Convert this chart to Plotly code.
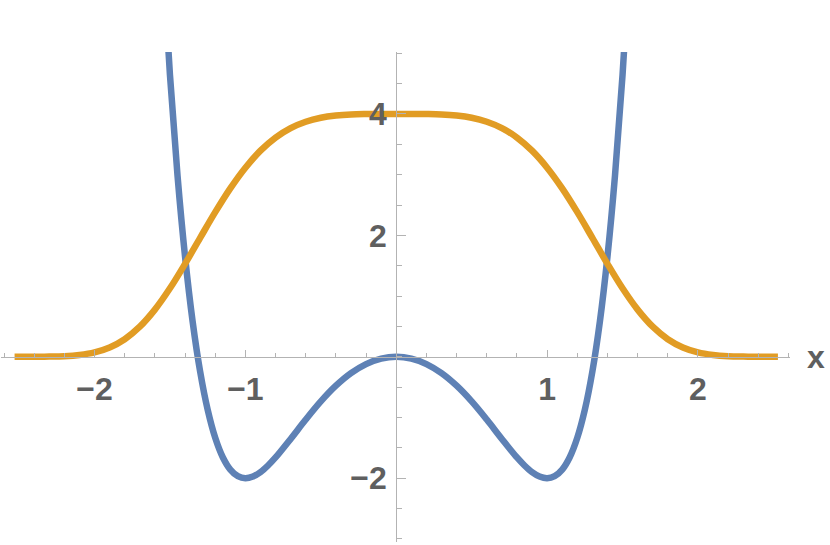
import plotly.graph_objects as go

# Blue curve samples
blue_x = [-1.6, -1.55, -1.5, -1.45, -1.4, -1.35, -1.3, -1.25, -1.2, -1.15, -1.1, -1.05, -1.0, -0.95, -0.9,
          -0.85, -0.8, -0.7, -0.6, -0.5, -0.4, -0.3, -0.2, -0.1,
          0.0, 0.1, 0.2, 0.3, 0.4, 0.5, 0.6, 0.7, 0.8, 0.85, 0.9, 0.95, 1.0, 1.05, 1.1, 1.15, 1.2,
          1.25, 1.3, 1.35, 1.4, 1.45, 1.5, 1.55, 1.6]
blue_y = [9.097, 6.660, 4.641, 2.986, 1.650, 0.586, -0.243, -0.873, -1.334, -1.654, -1.858, -1.967,
          -2.000, -1.972, -1.899, -1.790, -1.658, -1.352, -1.033, -0.734, -0.476, -0.269, -0.120, -0.030,
          0.000, -0.030, -0.120, -0.269, -0.476, -0.734, -1.033, -1.352, -1.658, -1.790, -1.899, -1.972,
          -2.000, -1.967, -1.858, -1.654, -1.334, -0.873, -0.243, 0.586, 1.650, 2.986, 4.641, 6.660, 9.097]

# Orange curve samples
orange_x = [-2.53, -2.4, -2.3, -2.2, -2.1, -2.0, -1.9, -1.8, -1.7, -1.6, -1.5, -1.4, -1.3, -1.2, -1.1, -1.0,
            -0.9, -0.8, -0.7, -0.6, -0.5, -0.4, -0.3, -0.2, -0.1, 0.0,
            0.1, 0.2, 0.3, 0.4, 0.5, 0.6, 0.7, 0.8, 0.9, 1.0, 1.1, 1.2, 1.3, 1.4, 1.5, 1.6, 1.7, 1.8,
            1.9, 2.0, 2.1, 2.2, 2.3, 2.4, 2.53]
orange_y = [0.000, 0.001, 0.004, 0.011, 0.031, 0.073, 0.154, 0.290, 0.496, 0.777, 1.128, 1.531, 1.959,
            2.382, 2.774, 3.115, 3.395, 3.611, 3.767, 3.872, 3.938, 3.974, 3.992, 3.998, 4.000, 4.000,
            4.000, 3.998, 3.992, 3.974, 3.938, 3.872, 3.767, 3.611, 3.395, 3.115, 2.774, 2.382, 1.959,
            1.531, 1.128, 0.777, 0.496, 0.290, 0.154, 0.073, 0.031, 0.011, 0.004, 0.001, 0.000]

x_tickvals = [-2, -1, 1, 2]
y_tickvals = [-2, 2, 4]

x_range = [-2.62, 2.61]
y_range = [-3.05, 5.02]

BLUE = "#5E81B5"
ORANGE = "#E19C24"
AXIS = "#b3b3b3"
LABEL = "#5f5f5f"
FONT = "Liberation Sans"

fig = go.Figure()
fig.add_trace(go.Scatter(x=blue_x, y=blue_y, mode="lines",
                         line=dict(color=BLUE, width=6.5, shape="spline"), showlegend=False))
fig.add_trace(go.Scatter(x=orange_x, y=orange_y, mode="lines",
                         line=dict(color=ORANGE, width=6.5, shape="spline"), showlegend=False))

x_pos = (0 - y_range[0]) / (y_range[1] - y_range[0])
y_pos = (0 - x_range[0]) / (x_range[1] - x_range[0])

fig.update_layout(
    width=830, height=545,
    margin=dict(l=1, r=40, t=52, b=3, autoexpand=False),
    paper_bgcolor="white", plot_bgcolor="white",
    xaxis=dict(range=x_range, anchor="free", position=x_pos, side="bottom", automargin=False,
               showgrid=False, zeroline=False, showline=True, linecolor=AXIS, linewidth=1,
               tickmode="array", tickvals=x_tickvals, ticks="inside", ticklen=7, tickcolor=AXIS,
               tickfont=dict(family=FONT, size=32, color=LABEL, weight="bold"),
               ticklabelstandoff=4,
               minor=dict(tickmode="linear", tick0=0, dtick=0.2, ticks="inside", ticklen=4,
                          tickcolor=AXIS, showgrid=False)),
    yaxis=dict(range=y_range, anchor="free", position=y_pos, side="left", automargin=False,
               showgrid=False, zeroline=False, showline=True, linecolor=AXIS, linewidth=1,
               tickmode="array", tickvals=y_tickvals, ticks="inside", ticklen=9, tickcolor=AXIS,
               tickfont=dict(family=FONT, size=32, color=LABEL, weight="bold"),
               ticklabelstandoff=3,
               minor=dict(tickmode="linear", tick0=0, dtick=0.5, ticks="inside", ticklen=5,
                          tickcolor=AXIS, showgrid=False)),
    annotations=[dict(text="x", xref="paper", x=1, xanchor="left", xshift=15,
                      yref="y", y=0, yanchor="middle", showarrow=False,
                      font=dict(family=FONT, size=32, color=LABEL, weight="bold"))],
)

fig.write_html("out.html", config={"displayModeBar": False},
               post_script="document.body.style.margin='0';document.body.style.overflow='hidden';")
